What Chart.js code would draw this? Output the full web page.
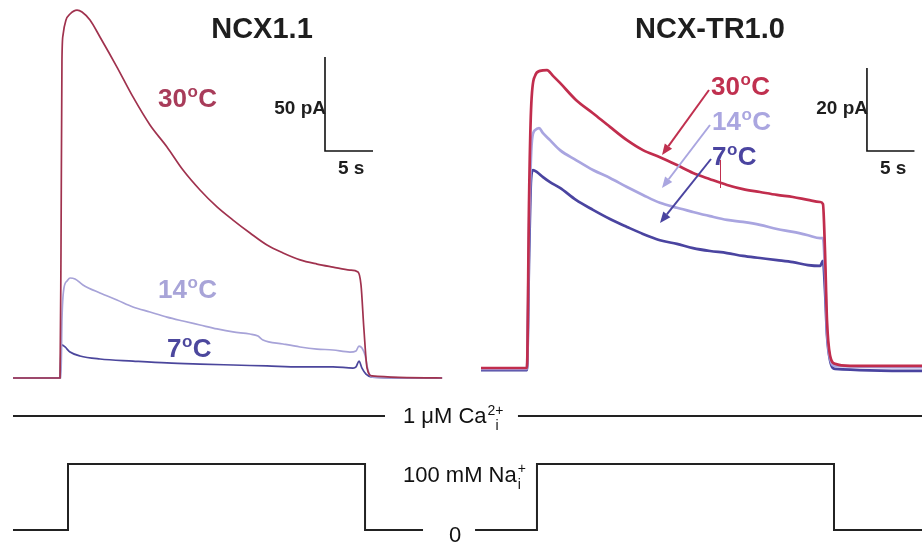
<!DOCTYPE html>
<html><head><meta charset="utf-8">
<script src="https://cdn.jsdelivr.net/npm/chart.js@4.4.1/dist/chart.umd.min.js"></script>
<style>html,body{margin:0;padding:0;background:#fff;}#wrap{width:922px;height:544px;position:relative;}</style>
</head><body><div id="wrap"><canvas id="c" width="922" height="544"></canvas></div>
<script>
// ---- NCX1.1 (time s, current pA)
const tL30 = [-5.0,-0.10,0,0.10,0.21,0.52,0.94,1.67,2.19,3.02,4.06,5.83,7.5,9.27,11.04,12.71,14.48,16.25,17.92,19.69,21.46,23.13,24.9,26.67,28.33,30.1,30.94,31.25,31.56,31.88,32.4,39.7];
const iL30 = [0,0,68,169.1,182.4,190.4,193.6,195.7,194.7,190.4,181.4,165.4,149.5,134.6,122.9,110.6,100.0,91.0,84.0,77.1,70.7,66.5,62.8,60.6,59.0,57.4,56.4,49.5,25.5,5.3,1.1,0];
const tL14 = [-5.0,0,0.10,0.31,0.63,0.94,1.46,2.29,4.06,5.83,7.5,9.27,11.04,12.71,14.48,16.25,17.92,19.69,20.52,21.04,23.13,24.9,26.67,28.33,30.1,30.73,31.04,31.35,31.67,31.98,32.4,39.7];
const iL14 = [0,0,30.9,47.9,51.6,53.2,52.7,49.5,45.2,41.5,37.8,35.1,32.4,30.3,28.2,26.1,24.5,23.4,22.3,20.2,18.1,16.5,15.4,14.9,13.8,14.4,17.0,16.0,12.2,4.3,0.5,0];
const tL7 = [-5.0,-0.1,0,0.10,0.42,0.94,1.98,4.06,7.5,11.04,14.48,17.92,21.46,24.9,28.33,30.42,30.73,31.04,31.35,31.77,32.4,39.7];
const iL7 = [0,0,14.9,17.6,16.5,13.8,11.7,10.1,9.0,8.0,7.4,6.9,6.4,5.9,5.9,5.3,5.9,9.0,5.3,2.1,0.5,0];
// ---- NCX-TR1.0
const tR30 = [-4.95,-0.11,0.11,0.32,0.74,1.26,2.0,2.63,3.37,5.05,6.84,8.63,10.42,12.1,13.89,15.68,17.37,19.16,20.95,22.63,24.42,26.21,27.89,29.47,30.74,31.05,31.26,31.47,31.79,32.32,33.9,41.5];
const iR30 = [0,0,40.5,62.2,70.4,71.6,71.8,70.4,68.7,64.6,61.4,58.1,54.9,52.5,50.8,48.9,47.0,45.5,44.1,43.1,42.4,41.7,41.2,40.5,40.0,39.5,28.4,11.6,3.1,1.0,0.5,0.5];
const tR14 = [-4.95,-0.11,0.11,0.42,0.74,1.16,1.58,2.32,3.37,5.05,6.84,8.63,10.42,12.1,13.89,15.68,17.37,19.16,20.95,22.63,24.42,26.21,27.89,29.47,30.74,31.05,31.26,31.47,31.79,32.32,41.5];
const iR14 = [-0.2,-0.2,33.3,54.9,57.3,57.8,56.6,54.9,52.5,50.1,47.7,45.8,43.6,41.7,39.8,38.6,37.6,36.6,35.7,35.2,34.5,33.5,32.8,32.0,31.3,31.3,23.6,9.2,2.4,0.5,0.2];
const tR7 = [-4.95,-0.11,0.11,0.32,0.53,0.95,1.58,2.32,3.37,5.05,6.84,8.63,10.42,12.1,13.89,15.68,17.37,19.16,20.95,22.63,24.42,26.21,27.89,29.47,30.74,31.05,31.26,31.47,31.79,32.32,41.5];
const iR7 = [-0.5,-0.5,26.0,45.3,47.7,47.2,46.0,44.8,43.4,40.5,38.1,35.9,34.0,32.3,30.8,29.9,28.9,28.2,27.7,27.0,26.5,26.0,25.5,24.8,24.6,25.8,18.8,8.0,1.9,-0.2,-0.7];
// ---- solution protocol (time s on NCX1.1 time base)
const tNa = [-5.0,0.73,0.73,31.67,31.67,37.71,40,43.13,49.58,49.58,80.52,80.52,89.7];
const cNa = [0,0,100,100,0,0,null,0,0,100,100,0,0];
const tCa = [-5.0,33.75,40,47.6,89.7];
const cCa = [1,1,null,1,1];
// ---- scale bars
const barL = {t:27.5, i:120.74, dt:5, di:50};
const barR = {t:35.68, i:52.29, dt:5, di:20};

const pts = (xs, ys) => xs.map((x,k)=>({x:x, y:ys[k]}));
const bar = b => [{x:b.t,y:b.i+b.di},{x:b.t,y:b.i},{x:b.t+b.dt,y:b.i}];

const C30L='#a0324e', C14L='#a7a3d8', C7L='#4b469c';
const C30R='#c12d4d', C14R='#a9a5e0', C7R='#4a44a0';
const FONT="'Liberation Sans', Arial, sans-serif";

function ds(data, color, w, xa, ya, smooth){
  const d = {data:data, borderColor:color, borderWidth:w, showLine:true, pointRadius:0, tension:0, xAxisID:xa, yAxisID:ya, spanGaps:false, fill:false};
  if (smooth) d.cubicInterpolationMode='monotone';
  return d;
}

function tempLabel(ctx, num, x, base, size, color){
  ctx.fillStyle=color;
  ctx.font='bold '+size+'px '+FONT;
  ctx.textAlign='left'; ctx.textBaseline='alphabetic';
  ctx.fillText(num, x, base);
  let w=ctx.measureText(num).width;
  const s2=Math.round(size*0.64);
  ctx.font='bold '+s2+'px '+FONT;
  ctx.fillText('o', x+w+0.5, base-size*0.40);
  w+=ctx.measureText('o').width+1;
  ctx.font='bold '+size+'px '+FONT;
  ctx.fillText('C', x+w, base);
}
function arrow(ctx,x1,y1,x2,y2,color){
  ctx.strokeStyle=color; ctx.fillStyle=color; ctx.lineWidth=2;
  const a=Math.atan2(y2-y1,x2-x1), L=11, H=4.5;
  const bx=x2-L*Math.cos(a), by=y2-L*Math.sin(a);
  ctx.beginPath(); ctx.moveTo(x1,y1); ctx.lineTo(bx,by); ctx.stroke();
  ctx.beginPath(); ctx.moveTo(x2,y2);
  ctx.lineTo(bx+H*Math.sin(a), by-H*Math.cos(a));
  ctx.lineTo(bx-H*Math.sin(a), by+H*Math.cos(a)); ctx.closePath(); ctx.fill();
}

const textPlugin = {
  id:'texts',
  afterDatasetsDraw(chart){
    const ctx=chart.ctx; ctx.save();
    ctx.fillStyle='#1e1e1e'; ctx.textBaseline='alphabetic';
    ctx.font='bold 29px '+FONT; ctx.textAlign='center';
    ctx.fillText('NCX1.1', 262, 38);
    ctx.fillText('NCX-TR1.0', 710, 38);
    // scale bar labels
    ctx.font='bold 19px '+FONT;
    ctx.textAlign='right';
    ctx.fillText('50 pA', 326, 114);
    ctx.fillText('20 pA', 868, 114);
    ctx.textAlign='left';
    ctx.fillText('5 s', 338, 174);
    ctx.fillText('5 s', 880, 174);
    // temperature labels
    tempLabel(ctx,'30',158,107,26,'#a83c5a');
    tempLabel(ctx,'14',158,298,26,'#a8a4d8');
    tempLabel(ctx,'7',167,357,26,'#4c479d');
    tempLabel(ctx,'30',711,95,26,'#c0304f');
    tempLabel(ctx,'14',712,130,26,'#aaa6e0');
    tempLabel(ctx,'7',712,165,26,'#4a44a0');
    arrow(ctx,709,90,662,155,'#c0304f');
    arrow(ctx,710,125,662,188,'#aaa6e0');
    arrow(ctx,711,159,660,223,'#4a44a0');
    ctx.strokeStyle='#c0304f'; ctx.lineWidth=1;
    ctx.beginPath(); ctx.moveTo(720.5,160); ctx.lineTo(720.5,188); ctx.stroke();
    // protocol labels
    ctx.fillStyle='#111';
    ctx.font='22px '+FONT; ctx.textAlign='left';
    let s='1 \u03bcM Ca'; ctx.fillText(s,403,423);
    let w=ctx.measureText(s).width;
    ctx.font='14px '+FONT; ctx.fillText('2+',403+w+1,415);
    ctx.fillText('i',403+w+9,430);
    ctx.font='22px '+FONT;
    s='100 mM Na'; ctx.fillText(s,403,482);
    w=ctx.measureText(s).width;
    ctx.font='14px '+FONT; ctx.fillText('+',403+w+1,473); ctx.fillText('i',403+w+1,489);
    ctx.font='22px '+FONT; ctx.textAlign='center';
    ctx.fillText('0',455,542);
    ctx.restore();
  }
};

new Chart(document.getElementById('c'), {
  type:'scatter',
  data:{datasets:[
    ds(pts(tL30,iL30),C30L,1.7,'xL','yL',true),
    ds(pts(tL14,iL14),C14L,1.7,'xL','yL',true),
    ds(pts(tL7,iL7),C7L,1.7,'xL','yL',true),
    ds(pts(tR30,iR30),C30R,2.7,'xR','yR',true),
    ds(pts(tR14,iR14),C14R,2.7,'xR','yR',true),
    ds(pts(tR7,iR7),C7R,2.7,'xR','yR',true),
    ds(bar(barL),'#111',1.6,'xL','yL',false),
    ds(bar(barR),'#111',1.6,'xR','yR',false),
    ds(pts(tNa,cNa),'#222',2,'xL','yP',false),
    ds(pts(tCa,cCa),'#222',2,'xL','yC',false)
  ]},
  options:{
    responsive:false, animation:false, events:[],
    layout:{padding:0},
    plugins:{legend:{display:false}, tooltip:{enabled:false}},
    scales:{
      x:{display:false}, y:{display:false},
      xL:{type:'linear', axis:'x', display:false, min:-6.354, max:89.687},
      yL:{type:'linear', axis:'y', display:false, min:-88.30, max:201.06},
      xR:{type:'linear', axis:'x', display:false, min:-55.579, max:41.474},
      yR:{type:'linear', axis:'y', display:false, min:-42.41, max:88.675},
      yP:{type:'linear', axis:'y', display:false, min:-21.21, max:803.03},
      yC:{type:'linear', axis:'y', display:false, min:0, max:4.25}
    }
  },
  plugins:[textPlugin]
});
</script></body></html>
